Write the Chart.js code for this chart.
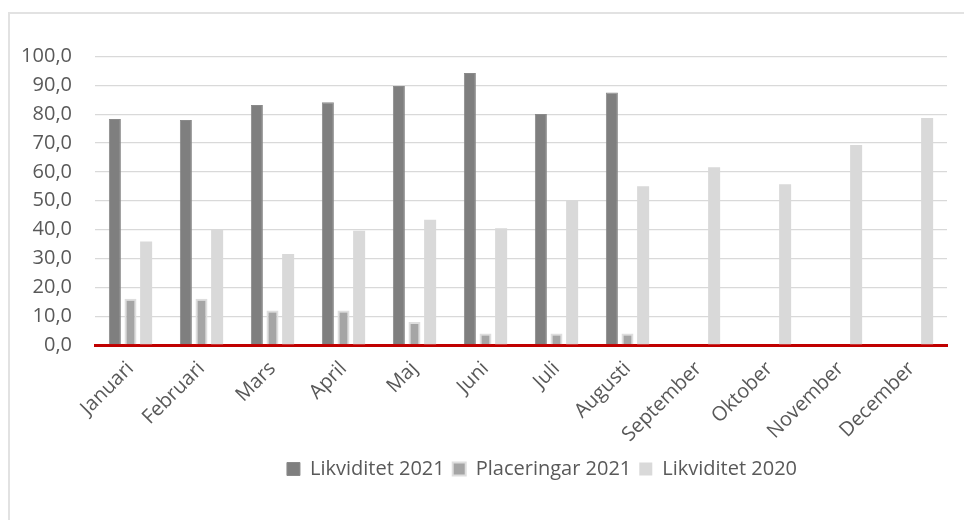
<!DOCTYPE html>
<html lang="sv">
<head>
<meta charset="utf-8">
<title>Likviditet</title>
<script src="https://cdn.jsdelivr.net/npm/chart.js@4.4.1/dist/chart.umd.min.js"></script>
<style>
  html, body { margin: 0; padding: 0; background: #fff; overflow: hidden; }
  .chart-frame { position: absolute; left: 8px; top: 12px; width: 1000px; height: 600px; border: 2px solid #e2e2e2; }
  .chart-wrap { position: absolute; left: 0; top: 0; width: 964px; height: 520px; }
</style>
</head>
<body>
<div class="chart-frame"></div>
<div class="chart-wrap"><canvas id="likviditetChart"></canvas></div>
<script>
const months = ['Januari', 'Februari', 'Mars', 'April', 'Maj', 'Juni', 'Juli', 'Augusti', 'September', 'Oktober', 'November', 'December'];
const likviditet2021 = [78.3, 78.0, 83.2, 84.1, 89.8, 94.3, 80.1, 87.5, null, null, null, null];
const placeringar2021 = [16.0, 16.0, 12.0, 12.0, 8.0, 4.0, 4.0, 4.0, null, null, null, null];
const likviditet2020 = [35.9, 40.2, 31.5, 39.6, 43.4, 40.5, 49.9, 55.0, 61.6, 55.7, 69.3, 78.7];
const yTickValues = [0, 10, 20, 30, 40, 50, 60, 70, 80, 90, 100];

document.addEventListener('DOMContentLoaded', function() {
  Chart.defaults.font.family = "'Open Sans', sans-serif";
  Chart.defaults.font.size = 20;
  Chart.defaults.color = '#595959';

  // flytta legenden så att den hamnar där den står i originalet
  const legendOffset = {
    id: 'legendOffset',
    afterLayout(chart) {
      const legend = chart.legend;
      if (!legend) return;
      const shift = 542 - (legend.left + legend.right) / 2;
      legend.left += shift;
      legend.right += shift;
    }
  };

  const ctx = document.getElementById('likviditetChart').getContext('2d');
  const likviditetChart = new Chart(ctx, {
    type: 'bar',
    data: {
      labels: months,
      datasets: [
        {
          label: 'Likviditet 2021',
          data: likviditet2021,
          backgroundColor: '#7f7f7f',
          borderColor: '#8a8a8a',
          borderWidth: 1
        },
        {
          label: 'Placeringar 2021',
          data: placeringar2021,
          backgroundColor: '#a5a5a5',
          borderColor: '#dedede',
          borderWidth: 2
        },
        {
          label: 'Likviditet 2020',
          data: likviditet2020,
          backgroundColor: '#d9d9d9',
          borderColor: '#d9d9d9',
          borderWidth: 0
        }
      ]
    },
    options: {
      responsive: true,
      maintainAspectRatio: false,
      animation: false,
      categoryPercentage: 0.66,
      barPercentage: 0.77,
      layout: {
        padding: { left: 0, right: 17, top: 56.5, bottom: 31 }
      },
      plugins: {
        legend: {
          position: 'bottom',
          labels: {
            boxWidth: 13,
            boxHeight: 13,
            padding: 8,
            color: '#595959',
            font: { size: 20 }
          }
        },
        tooltip: { enabled: false }
      },
      scales: {
        y: {
          min: 0,
          max: 100,
          afterFit: function(scale) {
            scale.width = 95;
          },
          afterBuildTicks: function(scale) {
            scale.ticks = yTickValues.map(v => ({ value: v }));
          },
          grid: {
            color: '#d9d9d9',
            lineWidth: 1.3,
            drawTicks: false
          },
          border: { display: false },
          ticks: {
            padding: 23,
            callback: function(value) {
              return value.toFixed(1).replace('.', ',');
            }
          }
        },
        x: {
          afterFit: function(scale) {
            scale.height = 106;
          },
          grid: { display: false, drawTicks: false },
          border: { display: true, color: '#c00000', width: 3 },
          ticks: {
            autoSkip: false,
            minRotation: 45,
            maxRotation: 45,
            padding: 12
          }
        }
      }
    },
    plugins: [legendOffset]
  });
});
</script>
</body>
</html>
